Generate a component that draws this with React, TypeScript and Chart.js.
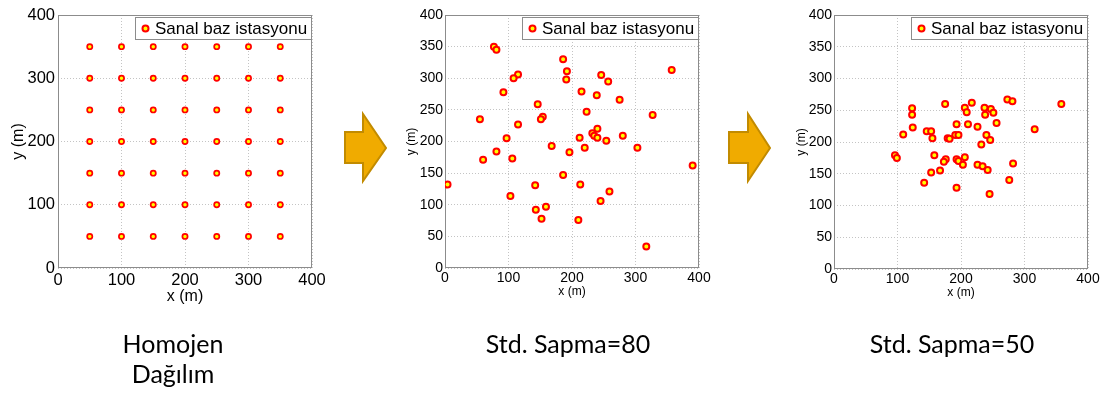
import { useEffect, useRef } from "react";
import { Chart, registerables } from "chart.js";

Chart.register(...registerables);

// Shared content
const seriesLabel = "Sanal baz istasyonu";
const axisMin = 0;
const axisMax = 400;
const xTitle = "x (m)";
const yTitle = "y (m)";

// Homogeneous layout: one station at every crossing of these coordinates
const homojenCoords = [50, 100, 150, 200, 250, 300, 350];

// Random layout, standard deviation 80 m
const sapma80X = [77, 81, 186, 192, 191, 115, 108, 246, 257, 357, 92, 215, 239, 275, 146, 223, 327, 55, 154, 151, 115, 240, 232, 235, 240, 212, 97, 254, 280, 168, 220, 303, 81, 196, 60, 106, 390, 186, 4, 142, 213, 259, 103, 245, 159, 143, 152, 210, 317];
const sapma80Y = [350, 345, 330, 311, 298, 306, 300, 305, 295, 313, 278, 279, 273, 266, 259, 247, 242, 235, 239, 235, 227, 220, 213, 209, 206, 206, 205, 201, 209, 193, 190, 190, 184, 183, 171, 173, 162, 147, 132, 131, 132, 121, 114, 106, 97, 92, 78, 76, 34];

// Random layout, standard deviation 50 m
const sapma50X = [123, 123, 175, 206, 209, 217, 237, 247, 251, 238, 273, 281, 256, 193, 211, 226, 124, 109, 146, 153, 155, 179, 182, 191, 196, 240, 246, 232, 96, 99, 158, 176, 173, 193, 196, 206, 203, 226, 234, 242, 282, 153, 167, 142, 276, 193, 245, 358, 316];
const sapma50Y = [253, 243, 260, 254, 247, 262, 254, 252, 246, 243, 267, 264, 230, 228, 228, 224, 223, 212, 217, 217, 206, 206, 205, 211, 211, 211, 203, 196, 179, 175, 179, 173, 169, 173, 170, 176, 164, 164, 162, 156, 166, 152, 155, 136, 140, 128, 118, 260, 220];

const captions = ["Homojen\nDağılım", "Std. Sapma=80", "Std. Sapma=50"];

type Pt = { x: number; y: number };

const homojenPoints: Pt[] = homojenCoords.flatMap((x) => homojenCoords.map((y) => ({ x, y })));
const zip = (xs: number[], ys: number[]): Pt[] => xs.map((x, i) => ({ x, y: ys[i] }));

const FONT = '"Liberation Sans", Arial, Helvetica, sans-serif';
const FILL = "#ffff00";
const EDGE = "#ff0000";
const FRAME = "#8c8c8c";

// Solid box around the plotting area
const framePlugin = {
  id: "frameBox",
  beforeDatasetsDraw(chart: any) {
    const { ctx, chartArea: a } = chart;
    ctx.save();
    ctx.setLineDash([]);
    ctx.strokeStyle = FRAME;
    ctx.lineWidth = 1;
    ctx.strokeRect(Math.round(a.left) + 0.5, Math.round(a.top) + 0.5, Math.round(a.right - a.left) - 1, Math.round(a.bottom - a.top) - 1);
    ctx.restore();
  },
};

// Legend box in the upper right corner of the plotting area
const legendPlugin = {
  id: "cornerLegend",
  afterDraw(chart: any) {
    const { ctx, chartArea: a } = chart;
    const ds = chart.data.datasets[0];
    ctx.save();
    ctx.font = `17px ${FONT}`;
    const tw = ctx.measureText(ds.label).width;
    const w = Math.round(20 + tw + 4);
    const h = 22;
    const x = Math.round(a.right - 1 - w);
    const y = Math.round(a.top + 2);
    ctx.fillStyle = "#ffffff";
    ctx.fillRect(x, y, w, h);
    ctx.strokeStyle = FRAME;
    ctx.lineWidth = 1;
    ctx.strokeRect(x + 0.5, y + 0.5, w, h);
    ctx.beginPath();
    ctx.arc(x + 10.5, y + h / 2 + 0.5, 3, 0, Math.PI * 2);
    ctx.fillStyle = FILL;
    ctx.fill();
    ctx.strokeStyle = EDGE;
    ctx.lineWidth = 2;
    ctx.stroke();
    ctx.fillStyle = "#000000";
    ctx.textBaseline = "middle";
    ctx.textAlign = "left";
    ctx.fillText(ds.label, x + 20, y + h / 2 + 1.5);
    ctx.restore();
  },
};

type PanelProps = {
  points: Pt[];
  left: number;
  width: number;
  yWidth: number;
  xHeight: number;
  padRight: number;
  yStep: number;
  tickSize: number;
  titleSize: number;
  yTickPad: number;
  xTickPad: number;
  yTitlePad: number;
  xTitlePad: number;
  radius: number;
  border: number;
};

const HEIGHT = 310;

function Panel(p: PanelProps) {
  const ref = useRef<HTMLCanvasElement | null>(null);

  useEffect(() => {
    if (!ref.current) return;
    const tickFont = { family: FONT, size: p.tickSize };
    const titleFont = { family: FONT, size: p.titleSize };
    const chart = new Chart(ref.current, {
      type: "scatter",
      data: {
        datasets: [
          {
            label: seriesLabel,
            data: p.points,
            pointRadius: p.radius,
            pointBorderWidth: p.border,
            pointBackgroundColor: FILL,
            pointBorderColor: EDGE,
            pointHoverRadius: p.radius,
          },
        ],
      },
      options: {
        animation: false,
        responsive: false,
        devicePixelRatio: 1,
        events: [],
        layout: { padding: { top: 15, right: p.padRight, left: 0, bottom: 0 } },
        plugins: { legend: { display: false }, tooltip: { enabled: false } },
        scales: {
          x: {
            type: "linear",
            min: axisMin,
            max: axisMax,
            afterFit: (s: any) => {
              s.height = p.xHeight;
            },
            ticks: { stepSize: 100, autoSkip: false, maxRotation: 0, font: tickFont, color: "#000", padding: p.xTickPad },
            grid: { color: "#c4c4c4", lineWidth: 1, drawTicks: false },
            border: { display: false, dash: [1, 2] },
            title: { display: true, text: xTitle, font: titleFont, color: "#000", padding: { top: 0, bottom: p.xTitlePad } },
          },
          y: {
            type: "linear",
            min: axisMin,
            max: axisMax,
            afterFit: (s: any) => {
              s.width = p.yWidth;
            },
            ticks: { stepSize: p.yStep, autoSkip: false, font: tickFont, color: "#000", padding: p.yTickPad },
            grid: { color: "#c4c4c4", lineWidth: 1, drawTicks: false },
            border: { display: false, dash: [1, 2] },
            title: { display: true, text: yTitle, font: titleFont, color: "#000", padding: { top: p.yTitlePad, bottom: 0 } },
          },
        },
      },
      plugins: [framePlugin, legendPlugin],
    });
    return () => chart.destroy();
  }, []);

  return (
    <canvas
      ref={ref}
      width={p.width}
      height={HEIGHT}
      style={{ position: "absolute", left: p.left, top: 0, width: p.width, height: HEIGHT }}
    />
  );
}

function Arrow({ x0, x1, tip }: { x0: number; x1: number; tip: number }) {
  const pts = [
    [x0, 132],
    [x1, 132],
    [x1, 114],
    [tip, 148],
    [x1, 181],
    [x1, 163],
    [x0, 163],
  ]
    .map((q) => q.join(","))
    .join(" ");
  return <polygon points={pts} fill="#f0ab00" stroke="#c28b00" strokeWidth={2} strokeLinejoin="miter" />;
}

function Caption({ text, center }: { text: string; center: number }) {
  return (
    <div
      style={{
        position: "absolute",
        left: center - 120,
        width: 240,
        top: 328,
        textAlign: "center",
        fontFamily: "Lato, 'Open Sans', sans-serif",
        fontSize: 25,
        lineHeight: "30px",
        color: "#000",
        whiteSpace: "pre-line",
      }}
    >
      {text}
    </div>
  );
}

export default function App() {
  return (
    <div style={{ position: "fixed", left: 0, top: 0, width: 1116, height: 394, background: "#fff", overflow: "hidden" }}>
      <Panel
        points={homojenPoints}
        left={0}
        width={330}
        yWidth={58}
        xHeight={42}
        padRight={18}
        yStep={100}
        tickSize={16.5}
        titleSize={16}
        yTickPad={3}
        xTickPad={3}
        yTitlePad={9}
        xTitlePad={4}
        radius={2.6}
        border={1.7}
      />
      <Panel
        points={zip(sapma80X, sapma80Y)}
        left={395}
        width={330}
        yWidth={50}
        xHeight={42}
        padRight={26}
        yStep={50}
        tickSize={14}
        titleSize={12}
        yTickPad={2}
        xTickPad={2}
        yTitlePad={9}
        xTitlePad={11}
        radius={3}
        border={2}
      />
      <Panel
        points={zip(sapma50X, sapma50Y)}
        left={780}
        width={336}
        yWidth={54}
        xHeight={41}
        padRight={28}
        yStep={50}
        tickSize={14}
        titleSize={12}
        yTickPad={2}
        xTickPad={2}
        yTitlePad={14}
        xTitlePad={10}
        radius={3}
        border={2}
      />
      <svg width={1116} height={394} style={{ position: "absolute", left: 0, top: 0, pointerEvents: "none" }}>
        <Arrow x0={345} x1={363} tip={386} />
        <Arrow x0={729} x1={748} tip={770} />
      </svg>
      <Caption text={captions[0]} center={173} />
      <Caption text={captions[1]} center={568} />
      <Caption text={captions[2]} center={952} />
    </div>
  );
}
